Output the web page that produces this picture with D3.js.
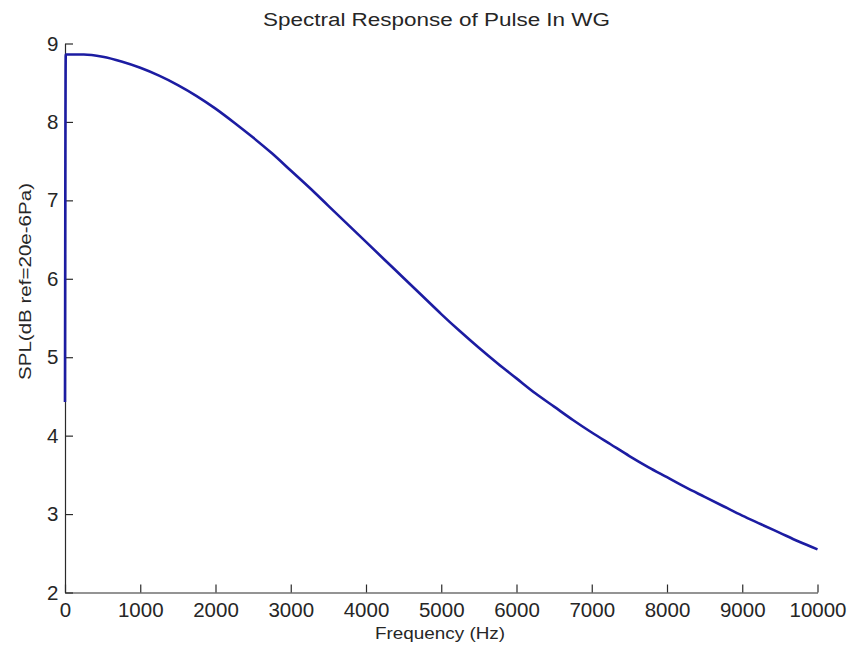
<!DOCTYPE html>
<html>
<head>
<meta charset="utf-8">
<script src="https://cdn.jsdelivr.net/npm/d3@7"></script>
<style>
  html, body { margin: 0; padding: 0; background: #ffffff; }
  svg { display: block; }
  text { font-family: "Liberation Sans", Arial, Helvetica, sans-serif; fill: #262626; }
</style>
</head>
<body>
<div id="chart"></div>
<script>
// ---- data ----
const frequency = [0, 10, 250, 500, 750, 1000, 1250, 1500, 1750, 2000, 2250, 2500, 2750, 3000,
  3250, 3500, 3750, 4000, 4250, 4500, 4750, 5000, 5250, 5500, 5750, 6000, 6250, 6500, 6750,
  7000, 7250, 7500, 7750, 8000, 8250, 8500, 8750, 9000, 9250, 9500, 9750, 10000];
const spl = [4.43, 8.86, 8.86, 8.83, 8.77, 8.69, 8.59, 8.47, 8.33, 8.17, 7.99, 7.80, 7.60, 7.38,
  7.16, 6.93, 6.70, 6.47, 6.24, 6.01, 5.78, 5.55, 5.33, 5.12, 4.92, 4.73, 4.54, 4.37, 4.20,
  4.04, 3.89, 3.74, 3.60, 3.47, 3.34, 3.22, 3.10, 2.98, 2.87, 2.76, 2.65, 2.55];
const xTicks = [0, 1000, 2000, 3000, 4000, 5000, 6000, 7000, 8000, 9000, 10000];
const yTicks = [2, 3, 4, 5, 6, 7, 8, 9];
const titleText = "Spectral Response of Pulse In WG";
const xLabelText = "Frequency (Hz)";
const yLabelText = "SPL(dB ref=20e-6Pa)";

// ---- layout ----
const W = 850, H = 651;
const plot = { left: 65, right: 817.5, top: 43.5, bottom: 592.5 };

const svg = d3.select("#chart").append("svg")
  .attr("width", W).attr("height", H)
  .style("background", "#ffffff");

const x = d3.scaleLinear().domain([0, 10000]).range([plot.left, plot.right]);
const y = d3.scaleLinear().domain([2, 9]).range([plot.bottom, plot.top]);

const axisColor = "#2a2a2a";

// x axis
const gx = svg.append("g")
  .attr("transform", `translate(0,${plot.bottom})`)
  .call(d3.axisBottom(x).tickValues(xTicks).tickFormat(d3.format("d"))
    .tickSizeInner(-8).tickSizeOuter(0).tickPadding(10));
gx.select(".domain").attr("stroke", axisColor).attr("stroke-width", 1.2);
gx.selectAll(".tick line").attr("stroke", axisColor).attr("stroke-width", 1.2);
gx.selectAll(".tick text")
  .attr("font-size", 20.5)
  .attr("font-family", "'Liberation Sans', Arial, sans-serif")
  .attr("fill", "#2a2a2a");

// y axis
const gy = svg.append("g")
  .attr("transform", `translate(${plot.left},0)`)
  .call(d3.axisLeft(y).tickValues(yTicks).tickFormat(d3.format("d"))
    .tickSizeInner(-8).tickSizeOuter(0).tickPadding(6.5));
gy.select(".domain").attr("stroke", axisColor).attr("stroke-width", 1.2);
gy.selectAll(".tick line").attr("stroke", axisColor).attr("stroke-width", 1.2);
gy.selectAll(".tick text")
  .attr("font-size", 20.5)
  .attr("font-family", "'Liberation Sans', Arial, sans-serif")
  .attr("fill", "#2a2a2a");

// curve
const pts = frequency.map((f, i) => [f, spl[i]]);
const line = d3.line()
  .x(d => x(d[0]))
  .y(d => y(d[1]))
  .curve(d3.curveMonotoneX);

svg.append("path")
  .datum(pts)
  .attr("d", line)
  .attr("fill", "none")
  .attr("stroke", "#1c1ca2")
  .attr("stroke-width", 2.6)
  .attr("stroke-linejoin", "round");

// title
svg.append("text")
  .attr("x", 436.5).attr("y", 26)
  .attr("text-anchor", "middle")
  .attr("font-size", 18)
  .attr("textLength", 347)
  .attr("lengthAdjust", "spacingAndGlyphs")
  .text(titleText);

// x label
svg.append("text")
  .attr("x", 440).attr("y", 639)
  .attr("text-anchor", "middle")
  .attr("font-size", 17)
  .attr("textLength", 130)
  .attr("lengthAdjust", "spacingAndGlyphs")
  .text(xLabelText);

// y label
svg.append("text")
  .attr("transform", "translate(31,281.5) rotate(-90)")
  .attr("text-anchor", "middle")
  .attr("font-size", 17)
  .attr("textLength", 197)
  .attr("lengthAdjust", "spacingAndGlyphs")
  .text(yLabelText);
</script>
</body>
</html>
